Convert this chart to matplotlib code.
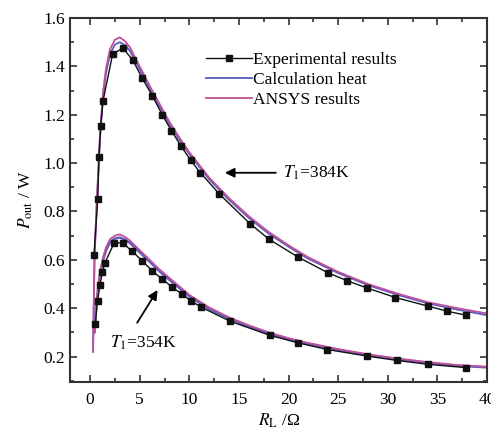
import numpy as np
import matplotlib.pyplot as plt
from matplotlib.ticker import MultipleLocator

plt.rcParams["font.family"] = "Liberation Serif"
plt.rcParams["mathtext.fontset"] = "stix"

# experimental points, T1 = 384 K
exp_hi_x = [0.4, 0.77, 0.9, 1.07, 1.3, 2.27, 3.3, 4.3, 5.27, 6.27, 7.27, 8.2, 9.17,
            10.13, 11.1, 13.03, 16.1, 18.03, 20.93, 23.93, 25.93, 27.87, 30.77, 34.0,
            35.93, 37.87]
exp_hi_y = [0.62, 0.851, 1.024, 1.154, 1.256, 1.45, 1.476, 1.426, 1.35, 1.279, 1.2,
            1.134, 1.07, 1.012, 0.961, 0.872, 0.750, 0.685, 0.612, 0.547, 0.513, 0.484,
            0.444, 0.409, 0.388, 0.371]

# experimental points, T1 = 354 K
exp_lo_x = [0.53, 0.75, 1.0, 1.25, 1.5, 2.43, 3.27, 4.2, 5.27, 6.27, 7.27, 8.27, 9.27,
            10.17, 11.17, 14.1, 18.1, 21.0, 23.9, 27.9, 30.9, 34.0, 37.9]
exp_lo_y = [0.336, 0.43, 0.497, 0.55, 0.588, 0.670, 0.670, 0.637, 0.595, 0.554, 0.52,
            0.487, 0.458, 0.43, 0.405, 0.346, 0.288, 0.256, 0.229, 0.202, 0.184, 0.168,
            0.154]

# model curves
hi_x = [0.3, 0.45, 0.7, 1.0, 1.3, 1.6, 2.0, 2.5, 3.0, 3.5, 4.0, 5.0, 6.0, 7.0, 8.0,
        9.0, 10, 12, 14, 16, 18, 20, 22, 25, 28, 31, 34, 37, 40]
ansys_hi = [0.22, 0.62, 0.86, 1.12, 1.29, 1.39, 1.47, 1.51, 1.52, 1.505, 1.48, 1.40,
            1.32, 1.245, 1.17, 1.105, 1.045, 0.94, 0.855, 0.78, 0.715, 0.66, 0.61, 0.55,
            0.50, 0.46, 0.425, 0.40, 0.378]
calc_hi = [0.22, 0.61, 0.85, 1.10, 1.27, 1.37, 1.45, 1.49, 1.50, 1.488, 1.465, 1.388,
           1.31, 1.235, 1.16, 1.096, 1.037, 0.933, 0.848, 0.773, 0.708, 0.654, 0.604,
           0.545, 0.495, 0.455, 0.42, 0.394, 0.371]

lo_x = [0.45, 0.6, 0.8, 1.0, 1.3, 1.6, 2.0, 2.5, 3.0, 3.5, 4.0, 5.0, 6.0, 7.0, 8.0,
        9.0, 10, 12, 14, 16, 18, 20, 22, 25, 28, 31, 34, 37, 40]
ansys_lo = [0.30, 0.40, 0.49, 0.55, 0.61, 0.65, 0.685, 0.70, 0.705, 0.695, 0.68, 0.64,
            0.60, 0.56, 0.525, 0.49, 0.455, 0.403, 0.362, 0.329, 0.300, 0.276, 0.256,
            0.231, 0.209, 0.192, 0.177, 0.165, 0.158]
calc_lo = [0.30, 0.395, 0.48, 0.54, 0.598, 0.638, 0.672, 0.688, 0.692, 0.684, 0.67,
           0.631, 0.592, 0.552, 0.517, 0.483, 0.449, 0.397, 0.357, 0.324, 0.296, 0.272,
           0.252, 0.228, 0.206, 0.189, 0.174, 0.162, 0.155]

pink = "#c0509a"
blue = "#5c5cc0"
black = "#111111"

fig = plt.figure(figsize=(4.91, 4.34), dpi=100)
ax = fig.add_axes([0.143, 0.12, 0.849, 0.8385])

ax.plot(hi_x, calc_hi, color=blue, lw=1.3, zorder=2)
ax.plot(hi_x, ansys_hi, color=pink, lw=1.3, zorder=2)
ax.plot(lo_x, calc_lo, color=blue, lw=1.7, zorder=2)
ax.plot(lo_x, ansys_lo, color=pink, lw=1.3, zorder=2)
ax.plot(exp_hi_x, exp_hi_y, "-s", color=black, lw=1.0, ms=4, zorder=3)
ax.plot(exp_lo_x, exp_lo_y, "-s", color=black, lw=1.0, ms=4, zorder=3)

# legend
h1, = ax.plot([], [], "-s", color=black, lw=1.0, ms=4)
h2, = ax.plot([], [], color=blue, lw=1.3)
h3, = ax.plot([], [], color=pink, lw=1.3)
ax.legend([h1, h2, h3], ["Experimental results", "Calculation heat", "ANSYS results"],
          loc="upper left", bbox_to_anchor=(0.31, 0.925), frameon=False,
          fontsize=12.5, handlelength=2.6, handletextpad=0.1, labelspacing=0.2,
          borderaxespad=0)

ax.annotate("", xy=(13.3, 0.96), xytext=(19.0, 0.96),
            arrowprops=dict(arrowstyle="-|>", color="black", lw=1.3, mutation_scale=14))
ax.text(19.4, 0.96, "$T_1$=384K", fontsize=12.5, va="center", ha="left")
ax.annotate("", xy=(6.95, 0.485), xytext=(4.6, 0.33),
            arrowprops=dict(arrowstyle="-|>", color="black", lw=1.3, mutation_scale=14))
ax.text(5.4, 0.255, "$T_1$=354K", fontsize=12.5, va="center", ha="center")

ax.set_xlim(-2, 40)
ax.set_ylim(0.095, 1.6)
ax.xaxis.set_major_locator(MultipleLocator(5))
ax.xaxis.set_minor_locator(MultipleLocator(2.5))
ax.yaxis.set_major_locator(MultipleLocator(0.2))
ax.yaxis.set_minor_locator(MultipleLocator(0.1))
ax.yaxis.set_major_formatter(plt.FuncFormatter(lambda v, p: f"{v:.1f}"))
ax.tick_params(which="both", direction="in", top=True, right=True, labelsize=12.5,
               color="#333333", width=1.2)
ax.tick_params(which="major", length=5)
ax.tick_params(which="minor", length=3)
ax.tick_params(axis="x", pad=7)
for sp in ax.spines.values():
    sp.set_linewidth(1.5)
    sp.set_color("#333333")

ax.set_xlabel(r"$R_{\rm L}$ /Ω", fontsize=12.5, labelpad=3)
ax.set_ylabel(r"$P_{\rm out}$ / W", fontsize=12.5, labelpad=6)

fig.savefig("out.png", dpi=100, facecolor="white")
